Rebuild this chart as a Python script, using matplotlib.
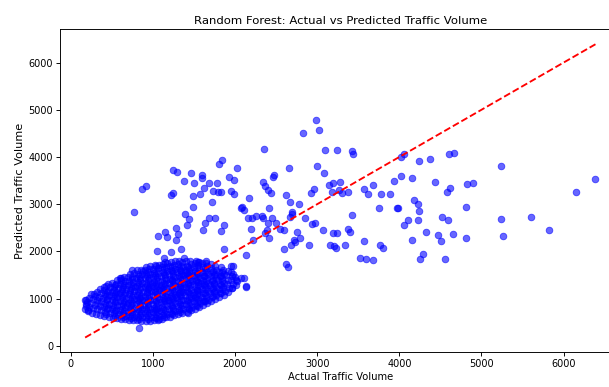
import matplotlib
matplotlib.use("Agg")
import matplotlib.pyplot as plt

# Dense cluster (actual, predicted)
cluster_actual = [
    175, 187, 180,
    210, 222, 200, 216,
    260, 272, 250, 266, 246,
    310, 322, 300, 316, 296, 319,
    360, 372, 350, 366, 346, 369, 355,
    410, 422, 400, 416, 396, 419, 405, 424,
    460, 472, 450, 466, 446, 469, 455, 474, 452,
    510, 522, 500, 516, 496, 519, 505, 524, 502,
    560, 572, 550, 566, 546, 569, 555, 574, 552, 563,
    610, 622, 600, 616, 596, 619, 605, 624, 602, 613, 598,
    660, 672, 650, 666, 646, 669, 655, 674, 652, 663, 648,
    710, 722, 700, 716, 696, 719, 705, 724, 702, 713, 698, 717,
    760, 772, 750, 766, 746, 769, 755, 774, 752, 763, 748, 767,
    810, 822, 800, 816, 796, 819, 805, 824, 802, 813, 798, 817, 807,
    860, 872, 850, 866, 846, 869, 855, 874, 852, 863, 848, 867, 857,
    910, 922, 900, 916, 896, 919, 905, 924, 902, 913, 898, 917, 907, 920,
    960, 972, 950, 966, 946, 969, 955, 974, 952, 963, 948, 967, 957, 970,
    1010, 1022, 1000, 1016, 996, 1019, 1005, 1024, 1002, 1013, 998, 1017, 1007, 1020,
    1060, 1072, 1050, 1066, 1046, 1069, 1055, 1074, 1052, 1063, 1048, 1067, 1057, 1070,
    1110, 1122, 1100, 1116, 1096, 1119, 1105, 1124, 1102, 1113, 1098, 1117, 1107, 1120,
    1160, 1172, 1150, 1166, 1146, 1169, 1155, 1174, 1152, 1163, 1148, 1167, 1157, 1170,
    1210, 1222, 1200, 1216, 1196, 1219, 1205, 1224, 1202, 1213, 1198, 1217, 1207, 1220,
    1260, 1272, 1250, 1266, 1246, 1269, 1255, 1274, 1252, 1263, 1248, 1267, 1257, 1270,
    1310, 1322, 1300, 1316, 1296, 1319, 1305, 1324, 1302, 1313, 1298, 1317, 1307, 1320,
    1360, 1372, 1350, 1366, 1346, 1369, 1355, 1374, 1352, 1363, 1348, 1367, 1357,
    1410, 1422, 1400, 1416, 1396, 1419, 1405, 1424, 1402, 1413, 1398, 1417, 1407,
    1460, 1472, 1450, 1466, 1446, 1469, 1455, 1474, 1452, 1463, 1448, 1467, 1457,
    1510, 1522, 1500, 1516, 1496, 1519, 1505, 1524, 1502, 1513, 1498, 1517,
    1560, 1572, 1550, 1566, 1546, 1569, 1555, 1574, 1552, 1563, 1548, 1567,
    1610, 1622, 1600, 1616, 1596, 1619, 1605, 1624, 1602, 1613, 1598,
    1660, 1672, 1650, 1666, 1646, 1669, 1655, 1674, 1652, 1663, 1648,
    1710, 1722, 1700, 1716, 1696, 1719, 1705, 1724, 1702, 1713,
    1760, 1772, 1750, 1766, 1746, 1769, 1755, 1774, 1752,
    1810, 1822, 1800, 1816, 1796, 1819, 1805, 1824,
    1860, 1872, 1850, 1866, 1846, 1869, 1855,
    1910, 1922, 1900, 1916, 1896, 1919,
    1960, 1972, 1950, 1966, 1946,
    2010, 2022, 2000,
    335, 585, 835, 1085, 1335, 1585, 935, 1185, 1435, 685, 1235, 1485,
    985, 785, 1285, 1535, 1035, 1385,
]
cluster_predicted = [
    770, 880, 960,
    740, 830, 920, 1010,
    700, 800, 900, 990, 1090,
    680, 770, 870, 960, 1060, 1150,
    650, 750, 840, 940, 1030, 1120, 1210,
    630, 720, 820, 910, 1010, 1100, 1190, 1260,
    610, 700, 800, 890, 990, 1080, 1170, 1250, 1300,
    590, 690, 780, 870, 970, 1060, 1150, 1240, 1330,
    580, 670, 760, 860, 950, 1040, 1140, 1230, 1320, 1400,
    570, 650, 750, 840, 940, 1030, 1120, 1210, 1300, 1390, 1440,
    560, 640, 730, 830, 920, 1010, 1110, 1200, 1290, 1380, 1460,
    550, 630, 720, 810, 910, 1000, 1090, 1190, 1280, 1370, 1460, 1530,
    545, 620, 710, 800, 900, 990, 1080, 1170, 1270, 1360, 1450, 1540,
    540, 610, 700, 790, 880, 980, 1070, 1160, 1260, 1350, 1440, 1530, 1600,
    530, 600, 690, 780, 870, 970, 1060, 1150, 1250, 1340, 1430, 1520, 1610,
    530, 600, 690, 780, 870, 960, 1060, 1150, 1240, 1340, 1430, 1520, 1610, 1670,
    530, 610, 700, 790, 880, 970, 1060, 1160, 1250, 1340, 1440, 1530, 1620, 1690,
    540, 620, 710, 800, 890, 980, 1070, 1170, 1260, 1350, 1450, 1540, 1630, 1710,
    550, 630, 720, 810, 900, 990, 1090, 1180, 1270, 1370, 1460, 1550, 1640, 1720,
    570, 650, 740, 830, 920, 1010, 1100, 1200, 1290, 1380, 1480, 1570, 1660, 1740,
    600, 680, 760, 850, 940, 1030, 1120, 1220, 1310, 1400, 1490, 1590, 1680, 1760,
    620, 700, 790, 870, 960, 1050, 1150, 1240, 1330, 1420, 1520, 1610, 1700, 1780,
    650, 730, 810, 900, 990, 1080, 1170, 1260, 1350, 1450, 1540, 1630, 1720, 1790,
    680, 760, 840, 930, 1020, 1110, 1200, 1290, 1380, 1470, 1560, 1650, 1740, 1800,
    700, 780, 870, 960, 1050, 1140, 1230, 1320, 1410, 1500, 1590, 1680, 1770,
    720, 800, 890, 980, 1070, 1160, 1250, 1340, 1430, 1520, 1610, 1700, 1790,
    750, 830, 920, 1010, 1100, 1190, 1280, 1370, 1460, 1550, 1640, 1730, 1800,
    780, 860, 950, 1040, 1130, 1220, 1310, 1400, 1490, 1580, 1670, 1760,
    820, 900, 990, 1080, 1170, 1260, 1350, 1440, 1530, 1620, 1710, 1780,
    860, 940, 1030, 1120, 1210, 1300, 1390, 1480, 1570, 1660, 1750,
    900, 980, 1070, 1160, 1250, 1340, 1430, 1520, 1610, 1700, 1760,
    950, 1030, 1110, 1200, 1290, 1380, 1470, 1560, 1650, 1730,
    1000, 1080, 1160, 1250, 1340, 1430, 1520, 1610, 1700,
    1040, 1120, 1210, 1300, 1390, 1480, 1570, 1660,
    1080, 1160, 1250, 1340, 1430, 1520, 1610,
    1140, 1220, 1310, 1400, 1490, 1580,
    1220, 1300, 1390, 1480, 1560,
    1290, 1380, 1460,
    915, 1105, 1005, 1215, 1145, 1325, 1195, 965, 1505, 855, 1395, 1075,
    1315, 1245, 1025, 1185, 785, 1565,
]

# Core of the cluster, where points overlap most
core_actual = [
    435, 441, 429, 438, 432, 444,
    535, 541, 529, 538, 532, 544, 527, 539,
    635, 641, 629, 638, 632, 644, 627, 639, 633,
    735, 741, 729, 738, 732, 744, 727, 739, 733, 742,
    835, 841, 829, 838, 832, 844, 827, 839, 833, 842, 830,
    935, 941, 929, 938, 932, 944, 927, 939, 933, 942, 930, 937,
    1035, 1041, 1029, 1038, 1032, 1044, 1027, 1039, 1033, 1042, 1030, 1037,
    1135, 1141, 1129, 1138, 1132, 1144, 1127, 1139, 1133, 1142, 1130, 1137,
    1235, 1241, 1229, 1238, 1232, 1244, 1227, 1239, 1233, 1242, 1230, 1237,
    1335, 1341, 1329, 1338, 1332, 1344, 1327, 1339, 1333, 1342, 1330, 1337,
    1435, 1441, 1429, 1438, 1432, 1444, 1427, 1439, 1433, 1442, 1430,
    1535, 1541, 1529, 1538, 1532, 1544, 1527, 1539, 1533, 1542,
    1635, 1641, 1629, 1638, 1632, 1644, 1627, 1639, 1633,
    1735, 1741, 1729, 1738, 1732, 1744, 1727,
    1835, 1841, 1829, 1838, 1832, 1844,
]
core_predicted = [
    670, 770, 860, 960, 1050, 1140,
    640, 730, 820, 920, 1010, 1100, 1190, 1280,
    610, 700, 790, 890, 980, 1070, 1160, 1250, 1340,
    590, 670, 760, 860, 950, 1040, 1130, 1230, 1320, 1410,
    570, 650, 740, 830, 920, 1020, 1110, 1200, 1300, 1390, 1480,
    570, 650, 740, 830, 920, 1010, 1110, 1200, 1290, 1390, 1480, 1570,
    580, 670, 760, 850, 940, 1030, 1130, 1220, 1310, 1410, 1500, 1590,
    620, 700, 790, 880, 970, 1060, 1160, 1250, 1340, 1440, 1530, 1620,
    670, 750, 840, 930, 1020, 1110, 1200, 1300, 1390, 1480, 1580, 1670,
    720, 800, 890, 980, 1070, 1160, 1250, 1340, 1430, 1520, 1610, 1700,
    780, 860, 950, 1040, 1130, 1220, 1310, 1400, 1490, 1580, 1670,
    840, 920, 1010, 1100, 1190, 1280, 1370, 1460, 1550, 1640,
    940, 1020, 1110, 1200, 1290, 1380, 1470, 1560, 1650,
    1050, 1130, 1220, 1310, 1400, 1490, 1580,
    1120, 1200, 1290, 1380, 1470, 1560,
]

# Scattered points outside the dense cluster
outlier_actual = [
    1839, 1802, 1241, 1290, 1466, 1595, 1600, 1929, 1982, 2027, 1384, 1506,
    1677, 1783, 917, 872, 1624, 1729, 1790, 1835, 1945, 1982, 1246, 1226,
    1494, 1579, 1722, 1485, 766, 1396, 1437, 1421, 1640, 1680, 1754, 1860,
    1616, 1835, 1287, 1311, 1278, 1149, 1173, 1067, 1051, 1222, 1344, 1140,
    1152, 1380, 1860, 1546, 1649, 2076, 746, 612, 876, 827, 400, 287, 177,
    185, 205, 1079, 1424, 1607, 2137, 1973, 1039, 1527,
    2982, 3018, 2823, 2356, 3091, 3238, 3424, 3433, 2656, 2994, 3083, 2470,
    2457, 2339, 2368, 2400, 2437, 2173, 2616, 2665, 2774, 2921, 2957, 3144,
    3189, 3274, 3177, 3262, 3299, 3372, 3576, 3616, 2083, 2112, 2417, 2689,
    2698, 2673, 2152, 2205, 2259, 2327, 2335, 2449, 2405, 2498, 2851, 2973,
    2933, 3429, 2193, 2388, 2360, 2551, 2600, 2754, 3071, 3193, 3241, 3380,
    3396, 2795, 2717, 2412, 2217,
    2726, 2685, 2595, 2896, 3161, 3201, 3226, 3335, 3576, 3527, 3591, 2624,
    2644, 2128, 1954, 1974, 2076, 2104, 2015, 1961, 2128,
    4015, 4058, 4238, 4376, 4600, 4668, 3681, 3771, 3884, 3937, 4018, 4156,
    4433, 4583, 4616, 4823, 4900, 3754, 3966, 3985, 4180, 4229, 4238, 4104,
    4059, 4229, 4518, 4595, 4811, 3762, 3802, 4149, 4323, 4473, 4510, 4652,
    4811, 3680, 4290, 4250, 4555,
    5241, 6388, 6152, 5241, 5607, 5827, 5262,
]
outlier_predicted = [
    3932, 3841, 3727, 3679, 3658, 3624, 3545, 3573, 3503, 3770, 3488, 3440,
    3452, 3452, 3376, 3313, 3335, 3277, 3262, 3262, 3277, 3220, 3241, 3192,
    3171, 3207, 3051, 2939, 2839, 2784, 2679, 2558, 2607, 2700, 2700, 2564,
    2446, 2431, 2488, 2362, 2235, 2416, 2304, 2319, 2008, 1987, 2044, 1867,
    1776, 1867, 2051, 1782, 1797, 2911, 1600, 1444, 1586, 387, 1254, 1093, 966,
    846, 755, 564, 704, 951, 1254, 1691, 1691, 1797,
    4784, 4567, 4503, 4165, 4144, 4144, 4123, 4053, 3757, 3805, 3658, 3615,
    3573, 3473, 3383, 3298, 3228, 3123, 3186, 3051, 3008, 3228, 3313, 3404,
    3452, 3461, 3249, 3304, 3228, 3262, 3313, 3220, 2939, 2882, 2911, 2833,
    2784, 2727, 2713, 2713, 2748, 2748, 2713, 2713, 2607, 2607, 2700, 2607,
    2573, 2770, 2474, 2446, 2396, 2467, 2446, 2416, 2459, 2396, 2396, 2467,
    2416, 2277, 2235, 2277, 2235,
    2205, 2135, 2057, 2135, 2135, 2114, 2078, 2135, 2220, 1854, 1833, 1727,
    1670, 1918, 1691, 1516, 1444, 1431, 1389, 1233, 1262,
    3996, 4053, 3911, 3953, 4053, 4074, 3404, 3207, 3207, 3488, 3594, 3558,
    3467, 3256, 3334, 3418, 3452, 2924, 2924, 2911, 3080, 2996, 2854, 2664,
    2552, 2657, 2727, 2657, 2939, 2135, 2078, 2235, 2410, 2340, 2220, 2374,
    2277, 1811, 1951, 1846, 1833,
    3812, 3524, 3262, 2679, 2727, 2459, 2319,
]

actual = cluster_actual + core_actual + outlier_actual
predicted = cluster_predicted + core_predicted + outlier_predicted

fig = plt.figure(figsize=(10, 387 / 60.9), dpi=60.9)
ax = fig.add_axes([60 / 609, 35 / 387, 562 / 609, 323 / 387])

ax.scatter(actual, predicted, color="blue", alpha=0.6, s=62)
lo, hi = min(actual), max(actual)
ax.plot([lo, hi], [lo, hi], "r--", lw=2.2)

ax.set_xlim(-131, 6711)
ax.set_ylim(-131, 6711)
ax.set_xticks([0, 1000, 2000, 3000, 4000, 5000, 6000])
ax.set_yticks([0, 1000, 2000, 3000, 4000, 5000, 6000])
ax.tick_params(labelsize=11.5, length=4.5, width=1.1)
for s in ax.spines.values():
    s.set_linewidth(1.1)
ax.set_xlabel("Actual Traffic Volume", fontsize=11.8)
ax.set_ylabel("Predicted Traffic Volume", fontsize=13.3)
ax.set_title("Random Forest: Actual vs Predicted Traffic Volume", fontsize=13.7)

fig.savefig("out.png", dpi=60.9)
